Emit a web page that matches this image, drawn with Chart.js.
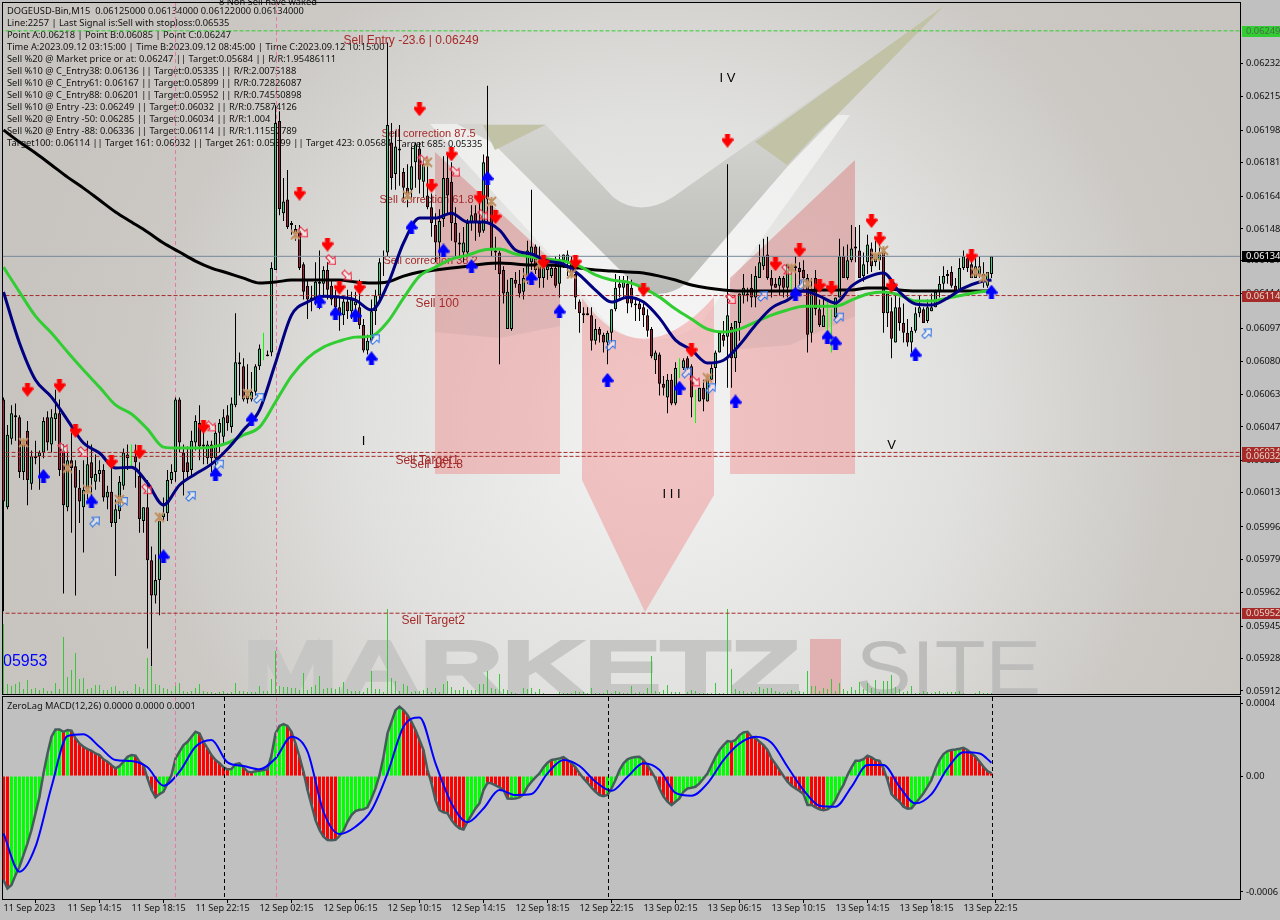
<!DOCTYPE html>
<html>
<head>
<meta charset="utf-8">
<title>DOGEUSD-Bin,M15</title>
<script src="https://cdn.jsdelivr.net/npm/chart.js@4"></script>
<style>
  html, body { margin: 0; padding: 0; background: #c0c0c0; overflow: hidden; }
  canvas { position: absolute; left: 0; }
  #priceChart { top: 0; }
  #macdChart { top: 696px; }
</style>
</head>
<body>
<canvas id="priceChart" width="1280" height="696"></canvas>
<canvas id="macdChart" width="1280" height="224"></canvas>
<script>
// =====================================================
// DATA (prices in 0.00001 points, one entry per M15 bar)
// =====================================================
const opens = [
6061,6006,6041,6053,6052,6024,6045,6018,6031,6032,
6034,6052,6038,6051,6054,6035,6006,6030,6027,6016,
6006,6015,6029,6019,6023,6025,6011,6014,5998,6004,
6017,6033,6031,6032,6022,5999,6006,5979,5961,5969,
6001,6003,6020,6024,6061,6034,6029,6025,6039,6049,
6038,6031,6038,6031,6044,6042,6053,6047,6058,6080,
6078,6063,6061,6065,6078,6086,6084,6085,6127,6203,
6156,6163,6151,6148,6147,6130,6119,6112,6112,6120,
6120,6127,6119,6114,6108,6104,6111,6106,6109,6108,
6099,6086,6091,6106,6114,6133,6136,6192,6176,6188,
6177,6169,6168,6182,6189,6172,6165,6159,6150,6141,
6153,6174,6172,6151,6140,6136,6136,6151,6156,6151,
6147,6185,6160,6137,6136,6127,6097,6097,6122,6120,
6116,6123,6131,6139,6130,6123,6127,6124,6128,6120,
6132,6131,6131,6125,6111,6105,6105,6104,6091,6097,
6094,6090,6095,6107,6120,6118,6120,6118,6110,6110,
6108,6104,6097,6081,6084,6069,6062,6071,6059,6077,
6077,6082,6078,6058,6060,6067,6060,6071,6077,6085,
6094,6093,6098,6082,6100,6114,6115,6118,6113,6123,
6129,6135,6123,6120,6119,6123,6118,6127,6129,6128,
6127,6123,6095,6123,6107,6098,6102,6096,6103,6113,
6134,6123,6132,6139,6137,6124,6131,6138,6131,6132,
6136,6105,6106,6090,6108,6100,6095,6090,6096,6105,
6107,6101,6106,6108,6116,6120,6124,6126,6119,6117,
6128,6133,6130,6123,6125,6125,6119,6125];
const highs = [
6062,6048,6058,6059,6053,6040,6050,6035,6040,6035,
6052,6055,6056,6066,6061,6038,6035,6044,6030,6025,
6030,6040,6038,6033,6030,6028,6017,6028,6010,6022,
6036,6038,6038,6038,6029,6006,6020,5986,5982,6003,
6011,6025,6028,6062,6062,6038,6037,6045,6053,6058,
6045,6040,6040,6048,6051,6056,6058,6062,6105,6085,
6082,6079,6075,6079,6089,6095,6086,6131,6211,6208,
6174,6178,6152,6150,6150,6131,6122,6119,6131,6137,
6129,6131,6122,6117,6113,6114,6117,6116,6116,6122,
6102,6094,6112,6117,6133,6137,6243,6202,6198,6201,
6179,6181,6190,6192,6192,6184,6183,6166,6156,6158,
6185,6187,6182,6159,6146,6149,6153,6160,6160,6164,
6186,6221,6164,6144,6137,6129,6122,6123,6126,6127,
6128,6142,6168,6140,6139,6134,6132,6130,6134,6135,
6135,6137,6134,6131,6112,6108,6108,6108,6102,6098,
6095,6096,6107,6125,6124,6124,6124,6122,6113,6112,
6110,6107,6098,6086,6085,6073,6074,6074,6080,6082,
6082,6083,6079,6066,6067,6071,6073,6079,6086,6095,
6101,6181,6100,6101,6115,6125,6118,6125,6129,6140,
6143,6144,6127,6123,6124,6124,6130,6130,6134,6131,
6132,6125,6123,6127,6112,6113,6111,6107,6113,6143,
6139,6140,6150,6149,6150,6136,6145,6141,6142,6144,
6137,6115,6113,6114,6113,6110,6102,6098,6108,6114,
6108,6112,6115,6117,6124,6129,6127,6129,6123,6133,
6137,6134,6133,6133,6134,6131,6126,6134];
const lows = [
5953,6005,6038,6040,6021,6020,6007,6015,6028,6015,
6031,6035,6034,6040,6022,5962,6004,5993,5961,5998,
5983,6010,6007,6015,6019,6009,6005,5996,5971,6000,
6015,6025,6026,6016,5993,5993,5934,5925,5957,5951,
5999,5999,6018,6019,6034,6012,6020,6021,6035,6030,
6028,6028,6024,6025,6034,6038,6045,6044,6057,6063,
6060,6059,6060,6063,6076,6081,6083,6083,6127,6155,
6152,6148,6145,6142,6127,6112,6102,6106,6109,6107,
6113,6112,6109,6102,6096,6099,6102,6102,6104,6097,
6085,6084,6090,6099,6112,6124,6134,6168,6168,6170,
6162,6159,6164,6169,6166,6164,6158,6144,6131,6133,
6149,6156,6142,6134,6134,6131,6134,6147,6142,6144,
6146,6152,6134,6127,6079,6110,6097,6096,6118,6113,
6112,6120,6127,6125,6118,6118,6122,6123,6118,6113,
6128,6124,6123,6107,6095,6100,6104,6086,6089,6090,
6085,6079,6090,6106,6113,6113,6105,6108,6101,6101,
6098,6093,6082,6074,6063,6063,6054,6058,6058,6072,
6076,6076,6052,6049,6060,6055,6060,6071,6068,6085,
6088,6067,6067,6075,6091,6110,6111,6108,6108,6123,
6127,6122,6113,6118,6114,6113,6113,6117,6118,6119,
6117,6085,6090,6104,6098,6098,6090,6085,6102,6113,
6123,6122,6131,6131,6123,6121,6125,6126,6129,6127,
6095,6098,6082,6090,6096,6090,6088,6085,6095,6103,
6100,6100,6106,6108,6113,6117,6120,6118,6115,6116,
6127,6126,6123,6123,6123,6118,6118,6123];
const closes = [
6009,6043,6054,6052,6024,6038,6020,6032,6032,6034,
6050,6039,6052,6054,6025,6007,6030,6026,6016,6009,
6015,6028,6021,6023,6025,6011,6014,5998,6005,6019,
6034,6031,6032,6029,6000,6006,5979,5961,5969,5999,
6003,6020,6024,6061,6039,6024,6024,6040,6050,6037,
6037,6038,6031,6044,6049,6052,6049,6059,6080,6079,
6061,6061,6065,6078,6087,6086,6083,6128,6202,6158,
6162,6149,6150,6146,6128,6116,6112,6113,6121,6121,
6127,6117,6112,6108,6104,6111,6106,6112,6111,6099,
6086,6091,6106,6114,6131,6133,6201,6174,6190,6189,
6169,6164,6180,6191,6173,6181,6159,6151,6141,6152,
6174,6165,6151,6141,6141,6141,6151,6155,6151,6146,
6182,6163,6137,6136,6125,6115,6116,6123,6120,6115,
6123,6137,6139,6127,6123,6128,6129,6128,6119,6132,
6135,6135,6124,6113,6105,6104,6104,6091,6097,6094,
6090,6095,6107,6118,6118,6121,6110,6110,6109,6107,
6104,6096,6083,6085,6069,6067,6071,6059,6077,6077,
6081,6077,6062,6058,6067,6061,6071,6077,6085,6095,
6091,6104,6082,6101,6115,6118,6114,6113,6124,6131,
6134,6123,6119,6118,6123,6118,6130,6127,6128,6126,
6123,6094,6117,6107,6099,6104,6102,6096,6113,6134,
6123,6132,6138,6138,6123,6130,6140,6129,6133,6136,
6105,6115,6092,6108,6100,6095,6090,6096,6105,6108,
6100,6108,6108,6116,6120,6124,6125,6119,6116,6128,
6134,6128,6123,6129,6129,6122,6126,6134];
const limeBars = [32, 65, 169, 173, 197, 206, 207];
const volumes = [
70,10,8,10,12,5,14,5,6,4,6,3,3,11,5,57,17,24,41,15,
16,5,6,9,9,4,4,7,8,3,3,3,1,10,7,5,36,27,10,9,
6,5,3,8,11,3,2,3,6,10,3,2,2,1,2,3,1,2,11,3,
3,2,2,2,8,3,3,15,43,8,7,7,6,6,4,21,4,7,9,18,
5,6,6,5,7,12,5,3,3,3,2,6,23,5,5,2,85,16,13,3,
10,8,2,3,3,4,6,2,6,2,10,13,7,4,4,7,4,4,4,10,
10,23,6,5,20,5,4,2,1,0,6,5,6,2,5,1,0,0,0,2,
1,1,1,3,2,2,1,6,1,1,1,4,1,3,2,1,1,8,1,2,
1,6,38,3,2,4,9,2,2,2,0,2,4,3,1,1,1,1,11,1,
1,85,25,5,3,3,1,2,2,7,5,6,6,3,2,1,2,4,2,3,
2,23,8,8,3,6,5,15,3,11,5,3,7,4,12,5,11,6,14,2,
13,13,19,7,5,2,3,8,1,1,3,2,1,2,3,1,2,2,2,3,
1,0,0,1,3,1,1,1];

// moving averages, read every 4th bar (and the last one)
const navyLine = [
6115.8,6089.8,6070.9,6062.2,6050.5,6038.8,6033.7,6026,6026.5,6018.4,
6007.2,6017.4,6023,6028,6035.7,6045.4,6055.6,6079.6,6104,6110.7,
6113.7,6113.2,6111.7,6106.6,6119.4,6140.8,6153.5,6153.5,6156,6151.5,
6151.5,6147.4,6137.2,6135.2,6131.6,6130,6124.5,6116.8,6110.7,6113.2,
6110.7,6102.5,6091.3,6086.2,6079.6,6081,6088.8,6099,6107.6,6111.7,
6116.3,6113.7,6110.2,6118.8,6123.4,6125.5,6115.8,6109.7,6109.2,6112.7,
6117.8,6120.9,6121.9];
const greenLine = [
6128.5,6115.8,6103.5,6094.9,6085.2,6076,6067.3,6058.2,6053.6,6045.9,
6036.7,6036.2,6036.2,6036.7,6038.8,6042.9,6046.9,6059.7,6072.9,6082.1,
6087.7,6090.8,6092.8,6093.3,6100.5,6112.7,6123.9,6128.5,6132.6,6134.6,
6137.2,6137.7,6135.2,6133.6,6132.6,6131.6,6129,6124.5,6121.9,6120.9,
6117.8,6113.2,6107.1,6102,6096.9,6095.4,6096.9,6100.5,6104,6106.6,
6108.6,6108.6,6108.6,6111.7,6114.8,6115.8,6114.3,6111.2,6111.2,6112.7,
6114.3,6115.8,6116.3];
const blackLine = [
6198.4,6192.3,6186.7,6180.6,6174.4,6168.8,6162.7,6156.6,6151.5,6146.4,
6140.8,6136.2,6131.6,6128,6125.5,6122.9,6120.4,6120.9,6121.9,6121.9,
6121.9,6121.9,6120.9,6120.4,6120.9,6123.9,6126,6127,6128,6129,
6130.1,6130.6,6130.1,6129.6,6129.6,6129,6128,6127,6126.5,6126,
6125.5,6123.9,6121.9,6119.4,6117.8,6116.8,6116.3,6116.3,6116.3,6116.3,
6116.3,6116.8,6116.8,6116.8,6117.8,6117.8,6116.8,6116.3,6116.3,6116.3,
6116.3,6116.3,6116.3];

// signal markers: bar number and price
const redArrowBars = [6,14,18,27,34,50,74,81,84,89,104,107,112,119,123,135,143,160,172,181,193,199,204,207,217,219,222,242];
const redArrowPrices = [6066,6068,6045,6029,6034,6047,6166,6140,6118,6118,6209,6170,6186,6164,6154,6131,6131,6117,6086,6193,6130,6137,6119,6118,6152,6143,6119,6134];
const blueArrowBars = [10,22,40,53,62,79,83,88,92,102,110,117,121,132,139,151,169,183,198,206,208,228,247];
const blueArrowPrices = [6022,6009,5981,6023,6051,6111,6105,6104,6082,6149,6137,6129,6174,6123,6106,6071,6067,6060,6115,6093,6090,6084,6116];
const hollowRedBars = [15,20,36,52,75,82,86,105,113,120,173,182,196];
const hollowRedPrices = [6036,6034,6015,6047,6146,6132,6124,6183,6177,6155,6070,6112,6127];
const hollowBlueBars = [23,30,47,54,64,93,152,171,177,190,200,209,231];
const hollowBluePrices = [5999,6009,6012,6028,6062,6092,6089,6075,6067,6114,6120,6103,6095];
const starBars = [5,16,21,29,39,61,73,101,106,122,131,134,142,176,197,201,218,220,243,245];
const starPrices = [6039,6026,6015,6010,6001,6064,6145,6165,6182,6162,6123,6130,6125,6072,6128,6120,6134,6137,6126,6123];

// horizontal levels
const dashedRedLevels = [6114, 6034, 6032, 5952];
const entryLevel = 6249;
const currentPrice = 6134;

// price axis
const priceTicks = ['0.062324','0.062154','0.061984','0.061819','0.061644','0.06148','0.061319','0.061149','0.060974','0.060804','0.060634','0.06047','0.060299','0.060134','0.05996','0.059794','0.059624','0.059454','0.059289','0.059124'];
const priceChips = [['0.06249', 6249, '#32cd32', '#4a6a4a'], ['0.06134', 6134, '#000000', '#ffffff'], ['0.06114', 6114, '#a52a2a', '#e8d8c8'], ['0.06034', 6034, '#a52a2a', '#e8d8c8'], ['0.06032', 6032, '#a52a2a', '#e8d8c8'], ['0.05952', 5952, '#a52a2a', '#e8d8c8']];

// MACD panel, 0.000001 units
const macdValues = [
-571,-617,-598,-544,-498,-434,-370,-296,-205,-113,15,124,216,256,256,243,253,249,207,179,
161,148,139,124,115,92,79,60,42,55,79,106,115,112,79,60,-13,-77,-117,-99,
-86,-40,5,97,134,170,188,216,243,234,188,152,115,88,70,48,37,38,66,70,
48,24,20,27,29,33,37,115,234,275,285,275,243,179,106,24,-77,-159,-242,-296,
-333,-351,-353,-350,-328,-300,-251,-214,-192,-185,-183,-172,-123,-68,5,106,234,298,362,381,
362,335,298,253,198,143,33,-40,-132,-187,-199,-205,-242,-269,-287,-293,-251,-214,-178,-150,
-77,-37,-40,-51,-62,
-77,-123,-124,-123,-117,-101,-59,-31,-7,15,48,73,88,92,97,
104,88,70,48,15,-13,-37,-64,-86,-104,-110,-104,-68,-22,33,70,92,101,104,106,
88,60,24,-13,-68,-113,-141,-159,-141,-123,-86,-68,-64,-59,-40,-13,15,60,106,143,
170,192,188,198,225,240,243,216,207,188,170,143,97,66,33,0,-31,-53,-68,-82,
-99,-159,-159,-172,-183,-187,-183,-168,-132,-86,-49,5,48,84,84,93,112,102,88,84,
42,-22,-99,-123,-141,-168,-179,-177,-150,-123,-95,-59,-22,42,88,121,137,143,146,150,
155,143,124,106,79,51,27,15];
const macdColorRuns = [['r',2],['g',13],['r',1],['g',1],['r',12],['g',4],['r',6],['g',10],['r',8],['g',3],['r',3],['g',3],['r',1],['g',4],['r',13],['g',16],['r',16],['g',5],['r',6],['g',2],['r',1],['g',7],['r',1],['g',2],['r',11],['g',9],['r',8],['g',14],['r',1],['g',3],['r',15],['g',1],['r',4],['g',10],['r',11],['g',10],['r',1],['g',2],['r',8]];
const signalLine = [
-315,-525,-388,-59,220,229,161,88,82,48,-53,24,161,198,75,55,37,97,216,134,-196,-318,-278,-187,15,271,322,70,-150,-253,-178,-77,
-104,-99,15,88,55,-31,-81,-4,70,33,-92,-108,-40,88,179,216,183,51,-77,-163,-168,-59,60,60,-59,-150,-99,42,130,124,73];
const macdTickValues = [400, 0, -636];
const macdTickLabels = ['0.0004', '0.00', '-0.0006'];

const timeLabels = ['11 Sep 2023','11 Sep 14:15','11 Sep 18:15','11 Sep 22:15','12 Sep 02:15','12 Sep 06:15','12 Sep 10:15','12 Sep 14:15','12 Sep 18:15','12 Sep 22:15','13 Sep 02:15','13 Sep 06:15','13 Sep 10:15','13 Sep 14:15','13 Sep 18:15','13 Sep 22:15'];

const infoLines = [
  'DOGEUSD-Bin,M15  0.06125000 0.06134000 0.06122000 0.06134000',
  'Line:2257 | Last Signal is:Sell with stoploss:0.06535',
  'Point A:0.06218 | Point B:0.06085 | Point C:0.06247',
  'Time A:2023.09.12 03:15:00 | Time B:2023.09.12 08:45:00 | Time C:2023.09.12 10:15:00',
  'Sell %20 @ Market price or at: 0.06247 || Target:0.05684 || R/R:1.95486111',
  'Sell %10 @ C_Entry38: 0.06136 || Target:0.05335 || R/R:2.0075188',
  'Sell %10 @ C_Entry61: 0.06167 || Target:0.05899 || R/R:0.72826087',
  'Sell %10 @ C_Entry88: 0.06201 || Target:0.05952 || R/R:0.74550898',
  'Sell %10 @ Entry -23: 0.06249 || Target:0.06032 || R/R:0.75874126',
  'Sell %20 @ Entry -50: 0.06285 || Target:0.06034 || R/R:1.004',
  'Sell %20 @ Entry -88: 0.06336 || Target:0.06114 || R/R:1.11557789',
  'Target100: 0.06114 || Target 161: 0.06032 || Target 261: 0.05899 || Target 423: 0.05684'
];
const levelLabels = [['Sell Entry -23.6 | 0.06249', 85, 6242.3, 12], ['Sell correction 87.5', 94.5, 6194.8, 11], ['Sell correction 61.8', 94, 6161, 11], ['Sell correction 38.2', 95, 6130, 11], ['Sell 100', 103, 6108, 12], ['Sell Target1', 98, 6028, 12], ['Sell 161.8', 101.5, 6026, 12], ['Sell Target2', 99.5, 5946.5, 12]];
const waveLabels = [['I', 90, 6038], ['I V', 181, 6223], ['I I I', 167, 6011], ['V', 222, 6036]];

// =====================================================
// HELPERS
// =====================================================
const UI_FONT = '"Noto Sans", sans-serif';
const UI_SIZE = 9.3;
const toPrice = p => p / 100000;
const everyFourth = list => list.map((v, k) => ({ x: Math.min(k * 4, 247), y: toPrice(v) }));
const markerData = (bars, prices) => bars.map((b, k) => ({ x: b, y: toPrice(prices[k]) }));
// no label overhang: the plot area has to stay on the panel frame
const fixAxis = (s, size) => {
    if (s.isHorizontal()) s.height = size; else s.width = size;
    s.paddingTop = s.paddingBottom = s.paddingLeft = s.paddingRight = 0;
};

function sprite(w, h, draw) {
    const c = document.createElement('canvas');
    c.width = w; c.height = h;
    draw(c.getContext('2d'));
    return c;
}

function blockArrow(ctx) {
    ctx.beginPath();
    [[3.5, 0], [8.5, 0], [8.5, 5], [11, 4], [12, 6.5], [6, 14], [0, 6.5], [1, 4], [3.5, 5]].forEach(p => ctx.lineTo(p[0], p[1]));
    ctx.closePath();
}

const redArrow = sprite(12, 14, ctx => { ctx.fillStyle = '#ff0000'; blockArrow(ctx); ctx.fill(); });
const blueArrow = sprite(12, 14, ctx => {
    ctx.translate(12, 14); ctx.rotate(Math.PI);
    ctx.fillStyle = '#0000ff'; blockArrow(ctx); ctx.fill();
});

function hollowArrow(color, angle) {
    return sprite(13, 13, ctx => {
        ctx.translate(6.5, 6.5); ctx.rotate(angle);
        ctx.beginPath();
        [[-2, -6], [2, -6], [2, 0], [5, 0], [0, 5.5], [-5, 0], [-2, 0]].forEach(p => ctx.lineTo(p[0], p[1]));
        ctx.closePath();
        ctx.fillStyle = 'rgba(255,255,255,0.45)'; ctx.fill();
        ctx.strokeStyle = color; ctx.lineWidth = 1; ctx.stroke();
    });
}
const hollowRed = hollowArrow('#f0203c', -Math.PI / 4);
const hollowBlue = hollowArrow('#2a70e8', Math.PI + Math.PI / 4);

const star = sprite(11, 11, ctx => {
    ctx.strokeStyle = '#c09060'; ctx.lineWidth = 2;
    ctx.beginPath();
    ctx.moveTo(1, 1); ctx.lineTo(10, 10); ctx.moveTo(10, 1); ctx.lineTo(1, 10);
    ctx.moveTo(5.5, 1); ctx.lineTo(5.5, 10);
    ctx.stroke();
});

function scatter(data, style, order) {
    return { type: 'line', data, showLine: false, pointStyle: style, pointRadius: 6, order, yAxisID: 'y' };
}

function maLine(list, color, order) {
    return { type: 'line', data: everyFourth(list), borderColor: color, borderWidth: 3, pointRadius: 0, cubicInterpolationMode: 'monotone', order, yAxisID: 'y' };
}

function levelLine(price, color, dash, order) {
    return { type: 'line', data: [{ x: -1, y: toPrice(price) }, { x: 310, y: toPrice(price) }], borderColor: color, borderWidth: 1, borderDash: dash, pointRadius: 0, order, yAxisID: 'y' };
}

function verticalDashes(ctx, x, area, bars, color) {
    ctx.save();
    ctx.strokeStyle = color; ctx.lineWidth = 1; ctx.setLineDash([4, 3]);
    bars.forEach(b => {
        const px = Math.round(x.getPixelForValue(b)) + 0.5;
        ctx.beginPath(); ctx.moveTo(px, area.top); ctx.lineTo(px, area.bottom); ctx.stroke();
    });
    ctx.restore();
}

// =====================================================
// BACKGROUND WATERMARK
// =====================================================
function poly(ctx, pts) {
    ctx.beginPath();
    pts.forEach(p => ctx.lineTo(p[0], p[1]));
    ctx.closePath();
}

function drawWatermark(ctx, area) {
    ctx.save();
    ctx.beginPath(); ctx.rect(area.left, area.top, area.right - area.left, area.bottom - area.top); ctx.clip();

    const bg = ctx.createRadialGradient(660, 420, 30, 660, 420, 640);
    bg.addColorStop(0, '#f2f2f2');
    bg.addColorStop(0.45, '#e0e0de');
    bg.addColorStop(0.8, '#ccc9c5');
    bg.addColorStop(1, '#c8c5c1');
    ctx.fillStyle = bg;
    ctx.fillRect(area.left, area.top, area.right - area.left, area.bottom - area.top);

    // white band under the check mark
    ctx.fillStyle = 'rgba(248,248,248,0.65)';
    ctx.beginPath();
    ctx.moveTo(457, 124); ctx.lineTo(430, 124); ctx.lineTo(560, 265); ctx.lineTo(600, 315);
    ctx.quadraticCurveTo(640, 360, 700, 325);
    ctx.lineTo(850, 115); ctx.lineTo(836, 115); ctx.lineTo(787, 167); ctx.lineTo(687, 283);
    ctx.quadraticCurveTo(660, 303, 637, 287);
    ctx.lineTo(493, 143);
    ctx.closePath();
    ctx.fill();

    // check mark
    const gray = ctx.createLinearGradient(0, 124, 0, 292);
    gray.addColorStop(0, '#d4d4d0');
    gray.addColorStop(0.5, '#c6c6c3');
    gray.addColorStop(1, '#bcbcb9');
    ctx.fillStyle = gray;
    ctx.beginPath();
    ctx.moveTo(457, 124); ctx.lineTo(545, 124); ctx.lineTo(613, 197);
    ctx.quadraticCurveTo(640, 218, 673, 197);
    ctx.lineTo(945, 5); ctx.lineTo(787, 167); ctx.lineTo(687, 283);
    ctx.quadraticCurveTo(660, 303, 637, 287);
    ctx.lineTo(493, 143);
    ctx.closePath();
    ctx.fill();

    ctx.fillStyle = '#c2c2a6';
    poly(ctx, [[945, 5], [755, 142], [787, 165], [817, 133], [837, 115]]); ctx.fill();
    poly(ctx, [[483, 125], [545, 125], [495, 150]]); ctx.fill();

    // pink letter
    ctx.fillStyle = 'rgba(240,118,118,0.38)';
    poly(ctx, [[435, 152], [560, 268], [560, 474], [435, 474]]); ctx.fill();
    poly(ctx, [[730, 278], [855, 160], [855, 474], [730, 474]]); ctx.fill();
    ctx.beginPath();
    ctx.moveTo(582, 298); ctx.quadraticCurveTo(640, 380, 714, 297);
    ctx.lineTo(714, 495); ctx.lineTo(645, 612); ctx.lineTo(582, 480); ctx.closePath();
    ctx.fill();
    ctx.fillStyle = 'rgba(110,100,100,0.09)';
    poly(ctx, [[435, 152], [560, 268], [560, 326], [500, 338], [435, 332]]); ctx.fill();
    poly(ctx, [[730, 278], [855, 160], [855, 316], [790, 345], [730, 350]]); ctx.fill();

    // MARKETZ | SITE
    ctx.fillStyle = '#c6c6c5';
    ctx.strokeStyle = '#c6c6c5';
    ctx.lineWidth = 3;
    ctx.textBaseline = 'alphabetic'; ctx.textAlign = 'left';
    ctx.font = 'bold 76px "Liberation Sans"';
    let w = ctx.measureText('MARKETZ').width;
    ctx.save();
    ctx.translate(243, 694); ctx.scale(557 / w, 1);
    ctx.fillText('MARKETZ', 0, 0); ctx.strokeText('MARKETZ', 0, 0);
    ctx.restore();
    ctx.fillStyle = '#e1b1b1';
    ctx.fillRect(810, 639, 31, 55);
    ctx.fillStyle = '#bcbcbb';
    ctx.font = '76px "Liberation Sans"';
    w = ctx.measureText('SITE').width;
    ctx.save(); ctx.translate(856, 694); ctx.scale(185 / w, 1); ctx.fillText('SITE', 0, 0); ctx.restore();
    ctx.restore();
}

// =====================================================
// PRICE CHART
// =====================================================
const isLime = i => limeBars.includes(i);

const pricePlugin = {
    id: 'pricePlugin',
    beforeDatasetsDraw(chart) {
        const { ctx, chartArea: area, scales } = chart;
        drawWatermark(ctx, area);
        ctx.save();
        ctx.beginPath(); ctx.rect(area.left, 0, area.right - area.left, area.bottom); ctx.clip();
        ctx.textAlign = 'left'; ctx.textBaseline = 'alphabetic';

        ctx.font = UI_SIZE + 'px ' + UI_FONT;
        ctx.fillStyle = '#111111';
        infoLines.forEach((t, k) => ctx.fillText(t, 7, 14 + k * 12));
        ctx.fillText('Target 685: 0.05335', 397, 147);
        ctx.fillText('8 Non Sell have waked', 219, 5);

        ctx.fillStyle = '#a52a2a';
        levelLabels.forEach(l => {
            ctx.font = l[3] + 'px "Liberation Sans"';
            ctx.fillText(l[0], scales.x.getPixelForValue(l[1]), scales.y.getPixelForValue(toPrice(l[2])));
        });
        ctx.fillStyle = '#000000';
        ctx.font = '13px "Liberation Sans"';
        ctx.textAlign = 'center';
        waveLabels.forEach(l => ctx.fillText(l[0], scales.x.getPixelForValue(l[1]), scales.y.getPixelForValue(toPrice(l[2]))));
        ctx.textAlign = 'left';

        ctx.font = '16px "Liberation Sans"';
        ctx.fillStyle = '#0000ff';
        ctx.fillText('05953', 3, 666);
        ctx.restore();

        verticalDashes(ctx, scales.x, area, [43, 68], '#e878a8');
    },
    afterDraw(chart) {
        const { ctx, scales } = chart;
        ctx.save();
        ctx.strokeStyle = '#000000'; ctx.lineWidth = 1;
        ctx.strokeRect(2.5, 2.5, 1238, 692);
        ctx.font = UI_SIZE + 'px ' + UI_FONT;
        ctx.textBaseline = 'middle'; ctx.textAlign = 'left';
        priceChips.forEach(c => {
            const y = Math.round(scales.y.getPixelForValue(toPrice(c[1])));
            ctx.fillStyle = c[2];
            ctx.fillRect(1242, y - 5, 38, 11);
            ctx.fillStyle = c[3];
            ctx.fillText(c[0], 1246, y);
        });
        ctx.restore();
    }
};

new Chart(document.getElementById('priceChart'), {
    type: 'bar',
    data: {
        datasets: [
            { data: volumes.map((v, i) => ({ x: i, y: v })), yAxisID: 'yv', backgroundColor: '#3cc43c', barThickness: 1, grouped: false, inflateAmount: 0, order: 9 },
            { data: highs.map((h, i) => ({ x: i, y: [toPrice(lows[i]), toPrice(h)] })), yAxisID: 'y', backgroundColor: highs.map((h, i) => isLime(i) ? '#00ff00' : '#000000'), barThickness: 1, grouped: false, inflateAmount: 0, order: 8 },
            { data: opens.map((o, i) => ({ x: i, y: isLime(i) ? null : [toPrice(o), toPrice(closes[i])] })), yAxisID: 'y', backgroundColor: opens.map((o, i) => closes[i] >= o ? '#3cd282' : '#aa1e3c'), borderColor: '#000000', borderWidth: 1, borderSkipped: false, barThickness: 3, grouped: false, inflateAmount: 0, order: 7 },
            levelLine(currentPrice, '#778899', [], 6),
            levelLine(entryLevel, '#32cd32', [4, 2], 6),
            ...dashedRedLevels.map(p => levelLine(p, '#a52a2a', [4, 2], 6)),
            maLine(blackLine, '#000000', 5),
            maLine(greenLine, '#32cd32', 4),
            maLine(navyLine, '#000080', 3),
            scatter(markerData(starBars, starPrices), star, 2),
            scatter(markerData(hollowRedBars, hollowRedPrices), hollowRed, 2),
            scatter(markerData(hollowBlueBars, hollowBluePrices), hollowBlue, 2),
            scatter(markerData(redArrowBars, redArrowPrices), redArrow, 1),
            scatter(markerData(blueArrowBars, blueArrowPrices), blueArrow, 1)
        ]
    },
    options: {
        responsive: false,
        animation: false,
        devicePixelRatio: 1,
        layout: { autoPadding: false, padding: { left: 3, top: 3, right: 0, bottom: 2 } },
        plugins: { legend: { display: false }, tooltip: { enabled: false } },
        scales: {
            x: { type: 'linear', display: false, offset: false, min: -0.125, max: 309.125 },
            yv: { type: 'linear', display: false, min: 0, max: 691 },
            y: {
                type: 'linear',
                position: 'right',
                min: 0.059108,
                max: 0.062632,
                afterFit: s => fixAxis(s, 40),
                afterBuildTicks: s => { s.ticks = priceTicks.map(t => ({ value: parseFloat(t) })); },
                grid: { drawOnChartArea: false, tickLength: 3, tickColor: '#000000' },
                border: { color: '#000000' },
                ticks: {
                    autoSkip: false,
                    padding: 3,
                    color: '#101010',
                    font: { family: '"Noto Sans"', size: UI_SIZE },
                    callback: v => String(parseFloat(v.toFixed(6)))
                }
            }
        }
    },
    plugins: [pricePlugin]
});

// =====================================================
// ZEROLAG MACD PANEL
// =====================================================
const macdColors = macdColorRuns.flatMap(r => Array(r[1]).fill(r[0] === 'g' ? '#00ff00' : '#ff0000'));

const macdPlugin = {
    id: 'macdPlugin',
    afterDatasetsDraw(chart) {
        const { ctx, chartArea: area, scales } = chart;
        verticalDashes(ctx, scales.x, area, [43, 68], '#e878a8');
        verticalDashes(ctx, scales.x, area, [55, 151, 247], '#000000');
    },
    afterDraw(chart) {
        const { ctx } = chart;
        ctx.save();
        ctx.strokeStyle = '#000000'; ctx.lineWidth = 1;
        ctx.strokeRect(2.5, 0.5, 1238, 203);
        ctx.font = UI_SIZE + 'px ' + UI_FONT;
        ctx.fillStyle = '#111111';
        ctx.textAlign = 'left'; ctx.textBaseline = 'alphabetic';
        ctx.fillText('ZeroLag MACD(12,26) 0.0000 0.0000 0.0001', 7, 13);
        ctx.restore();
    }
};

new Chart(document.getElementById('macdChart'), {
    type: 'bar',
    data: {
        datasets: [
            { data: macdValues.map((v, i) => ({ x: i, y: v })), backgroundColor: macdColors, barThickness: 3, grouped: false, inflateAmount: 0, order: 3 },
            { type: 'line', data: macdValues.map((v, i) => ({ x: i, y: v })), borderColor: '#465c5c', borderWidth: 2.5, pointRadius: 0, order: 2 },
            { type: 'line', data: signalLine.map((v, k) => ({ x: Math.min(k * 4, 247), y: v })), borderColor: '#0000ff', borderWidth: 2, pointRadius: 0, cubicInterpolationMode: 'monotone', order: 1 }
        ]
    },
    options: {
        responsive: false,
        animation: false,
        devicePixelRatio: 1,
        layout: { autoPadding: false, padding: { left: 3, top: 1, right: 0, bottom: 0 } },
        plugins: { legend: { display: false }, tooltip: { enabled: false } },
        scales: {
            x: {
                type: 'linear',
                position: 'bottom',
                offset: false,
                min: -0.125,
                max: 309.125,
                afterFit: s => fixAxis(s, 21),
                afterBuildTicks: s => { s.ticks = timeLabels.map((t, k) => ({ value: k * 16 })); },
                grid: { drawOnChartArea: false, tickLength: 4, tickColor: '#000000' },
                border: { color: '#000000' },
                ticks: {
                    autoSkip: false,
                    maxRotation: 0,
                    align: 'start',
                    padding: 0,
                    color: '#101010',
                    font: { family: '"Noto Sans"', size: 9.1 },
                    callback: v => timeLabels[v / 16]
                }
            },
            y: {
                type: 'linear',
                position: 'right',
                min: -675,
                max: 434,
                afterFit: s => fixAxis(s, 40),
                afterBuildTicks: s => { s.ticks = macdTickValues.map(v => ({ value: v })); },
                grid: { drawOnChartArea: false, tickLength: 3, tickColor: '#000000' },
                border: { color: '#000000' },
                ticks: {
                    autoSkip: false,
                    padding: 3,
                    color: '#101010',
                    font: { family: '"Noto Sans"', size: UI_SIZE },
                    callback: v => macdTickLabels[macdTickValues.indexOf(v)]
                }
            }
        }
    },
    plugins: [macdPlugin]
});
</script>
</body>
</html>
